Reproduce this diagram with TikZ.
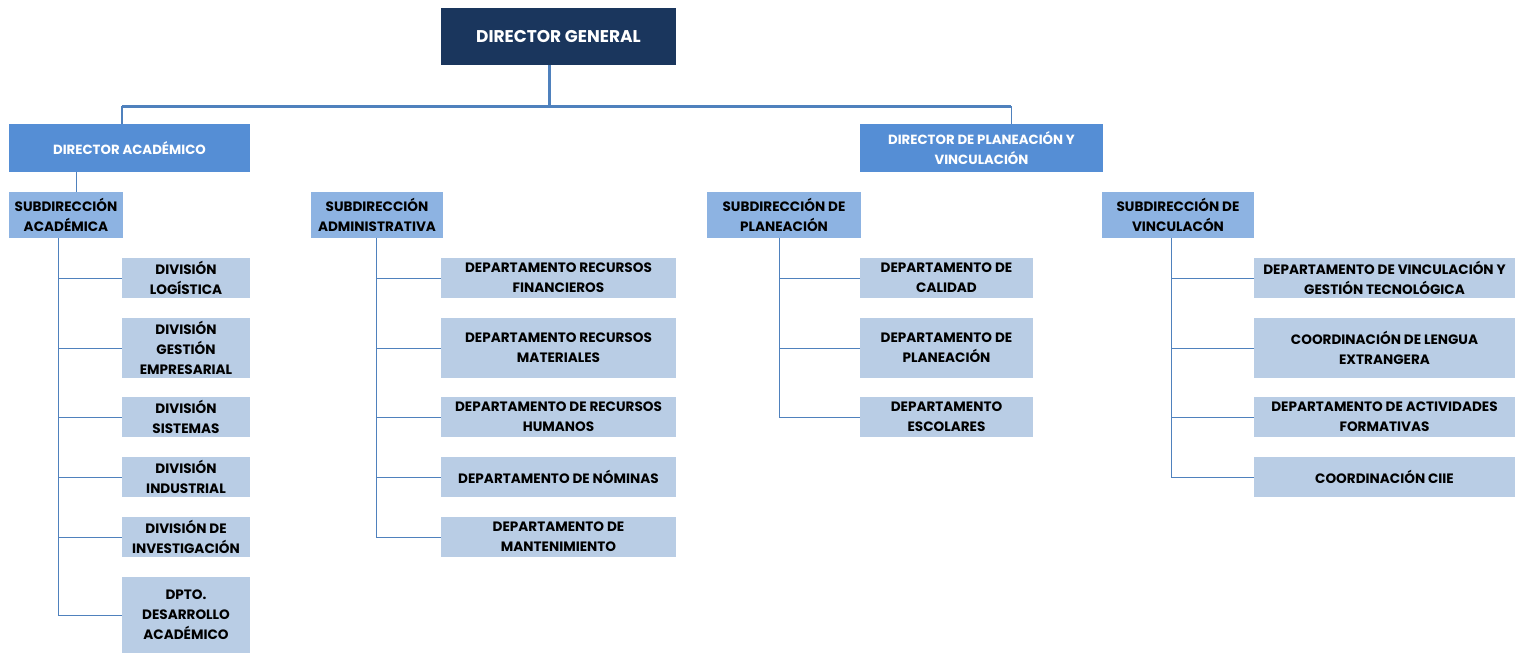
\documentclass[tikz,border=0pt]{standalone}
\usepackage{fontspec}
\setmainfont{Poppins}
\definecolor{navy}{HTML}{1A365D}
\definecolor{midblue}{HTML}{558ED5}
\definecolor{subblue}{HTML}{8DB3E2}
\definecolor{lightblue}{HTML}{B9CDE5}
\definecolor{linecol}{HTML}{4F81BD}
\newcommand\bx[7]{\node[#2, minimum width={#5pt-#3pt}, minimum height={#6pt-#4pt}] (#1) at ({(#3+#5)/2},{(#4+#6)/2}) {#7};}
\begin{document}
\begin{tikzpicture}[x=1pt,y=-1pt,
  base/.style={rectangle, inner sep=1pt, align=center, font=\bfseries\fontsize{13.6}{20}\selectfont},
  topbox/.style={base, fill=navy, text=white, font=\bfseries\fontsize{17}{20}\selectfont},
  dirbox/.style={base, fill=midblue, text=white, font=\bfseries\fontsize{13.3}{20}\selectfont},
  subbox/.style={base, fill=subblue, text=black},
  leafbox/.style={base, fill=lightblue, text=black},
  thickline/.style={draw=linecol, line width=3pt},
  midline/.style={draw=linecol, line width=1.8pt},
  thinline/.style={draw=linecol, line width=0.9pt}]
\useasboundingbox (0,0) rectangle (1518,654);
% top
\bx{dg}{topbox}{441}{8}{676}{65}{DIRECTOR GENERAL}
\bx{da}{dirbox}{9}{124}{250}{172}{DIRECTOR ACADÉMICO}
\bx{dpv}{dirbox}{860}{124}{1103}{172}{DIRECTOR DE PLANEACIÓN Y\\VINCULACIÓN}
% subdirections
\bx{sa}{subbox}{9}{192}{123}{238}{SUBDIRECCIÓN\\ACADÉMICA}
\bx{sad}{subbox}{311}{192}{443}{238}{SUBDIRECCIÓN\\ADMINISTRATIVA}
\bx{sp}{subbox}{707}{192}{861}{238}{SUBDIRECCIÓN DE\\PLANEACIÓN}
\bx{sv}{subbox}{1102}{192}{1254}{238}{SUBDIRECCIÓN DE\\VINCULACÓN}
% academic leaves
\bx{a1}{leafbox}{122}{258}{250}{298}{DIVISIÓN\\LOGÍSTICA}
\bx{a2}{leafbox}{122}{318}{250}{378}{DIVISIÓN\\GESTIÓN\\EMPRESARIAL}
\bx{a3}{leafbox}{122}{397}{250}{437}{DIVISIÓN\\SISTEMAS}
\bx{a4}{leafbox}{122}{457}{250}{497}{DIVISIÓN\\INDUSTRIAL}
\bx{a5}{leafbox}{122}{517}{250}{557}{DIVISIÓN DE\\INVESTIGACIÓN}
\bx{a6}{leafbox}{122}{577}{250}{653}{DPTO.\\DESARROLLO\\ACADÉMICO}
% admin leaves
\bx{b1}{leafbox}{441}{258}{676}{298}{DEPARTAMENTO RECURSOS\\FINANCIEROS}
\bx{b2}{leafbox}{441}{318}{676}{378}{DEPARTAMENTO RECURSOS\\MATERIALES}
\bx{b3}{leafbox}{441}{397}{676}{437}{DEPARTAMENTO DE RECURSOS\\HUMANOS}
\bx{b4}{leafbox}{441}{457}{676}{497}{DEPARTAMENTO DE NÓMINAS}
\bx{b5}{leafbox}{441}{517}{676}{557}{DEPARTAMENTO DE\\MANTENIMIENTO}
% planning leaves
\bx{c1}{leafbox}{860}{258}{1033}{298}{DEPARTAMENTO DE\\CALIDAD}
\bx{c2}{leafbox}{860}{318}{1033}{378}{DEPARTAMENTO DE\\PLANEACIÓN}
\bx{c3}{leafbox}{860}{397}{1033}{437}{DEPARTAMENTO\\ESCOLARES}
% linkage leaves
\bx{d1}{leafbox}{1254}{258}{1515}{298}{DEPARTAMENTO DE VINCULACIÓN Y\\GESTIÓN TECNOLÓGICA}
\bx{d2}{leafbox}{1254}{318}{1515}{378}{COORDINACIÓN DE LENGUA\\EXTRANGERA}
\bx{d3}{leafbox}{1254}{397}{1515}{437}{DEPARTAMENTO DE ACTIVIDADES\\FORMATIVAS}
\bx{d4}{leafbox}{1254}{457}{1515}{497}{COORDINACIÓN CIIE}
% top connectors
\coordinate (hl) at (122,106);
\coordinate (hr) at (1011,106);
\coordinate (hm) at (549,106);
\draw[thickline] (dg.south -| hm) -- (hm);
\draw[thickline] (hl) -- (hr);
\draw[midline] (hl) -- (hl |- da.north);
\draw[thinline] (hr) -- (hr |- dpv.north);
\coordinate (dax) at (76,172);
\draw[thinline] (dax) -- (dax |- sa.north);
% academic
\coordinate (va) at (58,238);
\foreach \n in {a1,a2,a3,a4,a5,a6} {\draw[thinline] (va) |- (\n.west);}
% admin
\coordinate (vb) at (376,238);
\foreach \n in {b1,b2,b3,b4,b5} {\draw[thinline] (vb) |- (\n.west);}
% planning
\coordinate (vc) at (779,238);
\foreach \n in {c1,c2,c3} {\draw[thinline] (vc) |- (\n.west);}
% linkage
\coordinate (vd) at (1171,238);
\foreach \n in {d1,d2,d3,d4} {\draw[thinline] (vd) |- (\n.west);}
\end{tikzpicture}
\end{document}
